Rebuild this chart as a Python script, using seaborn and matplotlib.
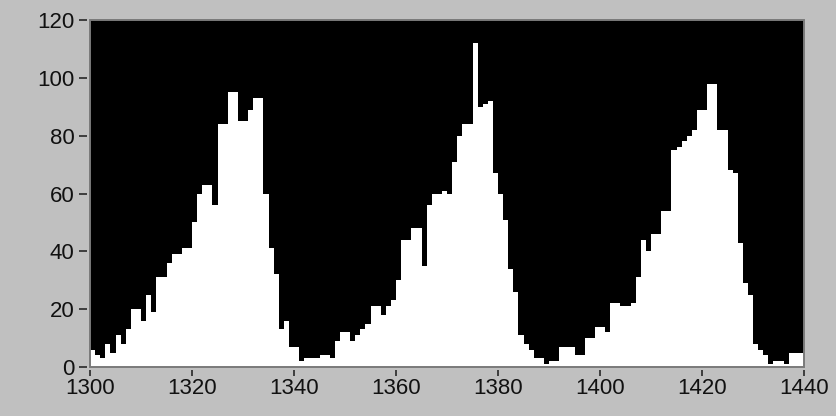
import numpy as np
import pandas as pd
import matplotlib
matplotlib.use("Agg")
import matplotlib.pyplot as plt
from matplotlib.patches import Rectangle
import seaborn as sns

# Histogram bins: one channel wide, starting at channel 1300
bin_start = 1300
bin_stop = 1440
counts = [
    6, 4, 3, 8, 5, 11, 8, 13, 20, 20,
    16, 25, 19, 31, 31, 36, 39, 39, 41, 41,
    50, 60, 63, 63, 56, 84, 84, 95, 95, 85,
    85, 89, 93, 93, 60, 41, 32, 13, 16, 7,
    7, 2, 3, 3, 3, 4, 4, 3, 9, 12,
    12, 9, 11, 13, 15, 21, 21, 18, 21, 23,
    30, 44, 44, 48, 48, 35, 56, 60, 60, 61,
    60, 71, 80, 84, 84, 112, 90, 91, 92, 67,
    60, 51, 34, 26, 11, 8, 6, 3, 3, 1,
    2, 2, 7, 7, 7, 4, 4, 10, 10, 14,
    14, 12, 22, 22, 21, 21, 22, 31, 44, 40,
    46, 46, 54, 54, 75, 76, 78, 80, 82, 89,
    89, 98, 98, 82, 82, 68, 67, 43, 29, 25,
    8, 6, 4, 1, 2, 2, 1, 5, 5, 5,
]
x_ticks = [1300, 1320, 1340, 1360, 1380, 1400, 1420, 1440]
y_ticks = [0, 20, 40, 60, 80, 100, 120]

channels = np.arange(bin_start, bin_stop) + 0.5
df = pd.DataFrame({"channel": channels, "count": counts})

sns.set_style("white")
plt.rcParams["font.family"] = ["Liberation Sans", "DejaVu Sans"]

panel = "#c0c0c0"
fig = plt.figure(figsize=(8.36, 4.16), dpi=100, facecolor=panel)
ax = fig.add_axes([90 / 836, 49 / 416, 714 / 836, 347 / 416])
ax.set_facecolor("black")

sns.histplot(data=df, x="channel", weights="count", binwidth=1,
             binrange=(bin_start, bin_stop),
             element="step", fill=True, color="white", alpha=1,
             linewidth=0, ax=ax)

ax.set_xlim(bin_start, bin_stop)
ax.set_ylim(0, 120)
ax.set_xticks(x_ticks)
ax.set_yticks(y_ticks)
ax.set_xlabel("")
ax.set_ylabel("")

# thin grey frame round the plotting area
ax.add_patch(Rectangle((0, 0), 1, 1, transform=ax.transAxes, fill=False,
                       edgecolor="#7a7a7a", linewidth=1.4, clip_on=False,
                       zorder=5))

for side in ["top", "right", "left", "bottom"]:
    ax.spines[side].set_visible(False)
ax.spines["left"].set_position(("outward", 2.2))
ax.spines["bottom"].set_position(("outward", 2.2))

ax.tick_params(axis="y", left=True, direction="out", length=5.8, width=1.1,
               color="#1a1a1a", pad=3.0, labelsize=16, labelcolor="#111111")
ax.tick_params(axis="x", bottom=True, direction="out", length=4.5, width=1.1,
               color="#1a1a1a", pad=1.0, labelsize=16, labelcolor="#111111")

fig.savefig("out.png", dpi=100, facecolor=panel)
